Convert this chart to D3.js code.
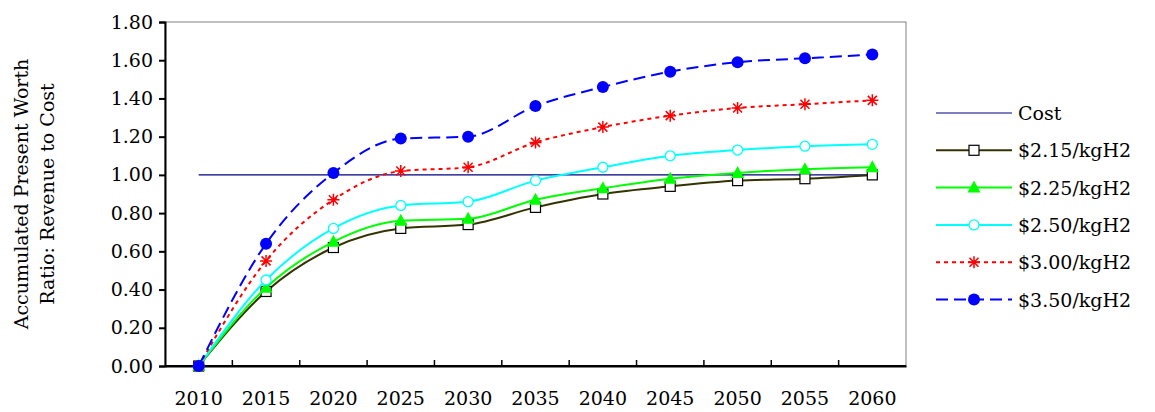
<!DOCTYPE html>
<html><head><meta charset="utf-8">
<script src="https://cdn.jsdelivr.net/npm/d3@7"></script>
<style>body{margin:0;background:#fff}text{font-family:"DejaVu Serif",serif}</style>
</head><body>
<svg id="c" width="1155" height="412"></svg>
<script>
const years = ["2010","2015","2020","2025","2030","2035","2040","2045","2050","2055","2060"];
const cost = [1,1,1,1,1,1,1,1,1,1,1];
const p215 = [0,0.39,0.62,0.72,0.74,0.83,0.90,0.94,0.97,0.98,1.00];
const p225 = [0,0.41,0.65,0.76,0.77,0.87,0.93,0.98,1.01,1.03,1.04];
const p250 = [0,0.45,0.72,0.84,0.86,0.97,1.04,1.10,1.13,1.15,1.16];
const p300 = [0,0.55,0.87,1.02,1.04,1.17,1.25,1.31,1.35,1.37,1.39];
const p350 = [0,0.64,1.01,1.19,1.20,1.36,1.46,1.54,1.59,1.61,1.63];
const yTicks = [0,0.2,0.4,0.6,0.8,1.0,1.2,1.4,1.6,1.8];
const yTitle = ["Accumulated Present Worth","Ratio: Revenue to Cost"];

const series = [
  {name:"Cost", v:cost, color:"#000080", dash:null, mark:null, curve:d3.curveLinear},
  {name:"$2.15/kgH2", v:p215, color:"#333300", dash:null, mark:"square"},
  {name:"$2.25/kgH2", v:p225, color:"#00ff00", dash:null, mark:"triangle"},
  {name:"$2.50/kgH2", v:p250, color:"#00ffff", dash:null, mark:"circleOpen"},
  {name:"$3.00/kgH2", v:p300, color:"#ff0000", dash:"4,4", mark:"star"},
  {name:"$3.50/kgH2", v:p350, color:"#0000ff", dash:"12,6", mark:"circle"}
];

const svg = d3.select("#c");
const L=165, R=906, T=22, B=366;
const x = d3.scaleBand().domain(years).range([L,R]);
const y = d3.scaleLinear().domain([0,1.8]).range([B,T]);

svg.append("rect").attr("x",L).attr("y",T).attr("width",R-L).attr("height",B-T)
  .attr("fill","none").attr("stroke","#808080");

const ya = svg.append("g").attr("transform",`translate(${L},0)`)
  .call(d3.axisLeft(y).tickValues(yTicks).tickFormat(d3.format(".2f")).tickSize(6));
const xa = svg.append("g").attr("transform",`translate(0,${B})`)
  .call(d3.axisBottom(x).tickSize(0).tickPadding(26));
[ya,xa].forEach(g=>{g.selectAll("path,line").attr("stroke","#000").attr("stroke-width",2);
  g.selectAll("text").attr("font-size",19).attr("fill","#000");});
ya.selectAll("text").attr("x",-12);
svg.append("g").selectAll("line").data(years.slice(1)).join("line")
  .attr("x1",d=>x(d)).attr("x2",d=>x(d)).attr("y1",B).attr("y2",B-6)
  .attr("stroke","#000").attr("stroke-width",1.5);
svg.append("line").attr("x1",L).attr("x2",R).attr("y1",B).attr("y2",B).attr("stroke","#000").attr("stroke-width",2);

const cx = d=>x(d)+x.bandwidth()/2;

function marker(g, type, color){
  if(type==="square") g.append("rect").attr("x",-5).attr("y",-5).attr("width",10).attr("height",10).attr("fill","#fff").attr("stroke","#000").attr("stroke-width",1.2);
  else if(type==="triangle") g.append("path").attr("d","M0,-7L6.5,5L-6.5,5Z").attr("fill",color);
  else if(type==="circleOpen") g.append("circle").attr("r",5).attr("fill","#fff").attr("stroke",color).attr("stroke-width",1.3);
  else if(type==="circle") g.append("circle").attr("r",6).attr("fill",color);
  else if(type==="star") g.append("path").attr("d","M-6,0H6M0,-6V6M-4.5,-4.5L4.5,4.5M-4.5,4.5L4.5,-4.5").attr("stroke",color).attr("stroke-width",1.5);
}

const line = d3.line().curve(d3.curveMonotoneX);
series.forEach(s=>{
  const pts = s.v.map((v,i)=>[cx(years[i]), y(v)]);
  const path = svg.append("path").attr("d", s.curve ? d3.line().curve(s.curve)(pts) : line(pts))
    .attr("fill","none").attr("stroke",s.color).attr("stroke-width",s.mark?2:1.2);
  if(s.dash) path.attr("stroke-dasharray",s.dash);
  if(s.mark) pts.forEach(p=>{marker(svg.append("g").attr("transform",`translate(${p})`), s.mark, s.color);});
});

const lg = svg.append("g");
series.forEach((s,i)=>{
  const ly = 113 + i*37.3;
  const l = lg.append("line").attr("x1",936).attr("x2",1012).attr("y1",ly).attr("y2",ly)
    .attr("stroke",s.color).attr("stroke-width",s.mark?2:1.2);
  if(s.dash) l.attr("stroke-dasharray",s.dash);
  if(s.mark) marker(lg.append("g").attr("transform",`translate(974,${ly})`), s.mark, s.color);
  lg.append("text").attr("x",1018).attr("y",ly+7).attr("font-size",19).text(s.name);
});

yTitle.forEach((t,i)=>{
  svg.append("text").attr("transform",`translate(${28+i*26},194) rotate(-90)`)
    .attr("text-anchor","middle").attr("font-size",19).text(t);
});
</script>
</body></html>
